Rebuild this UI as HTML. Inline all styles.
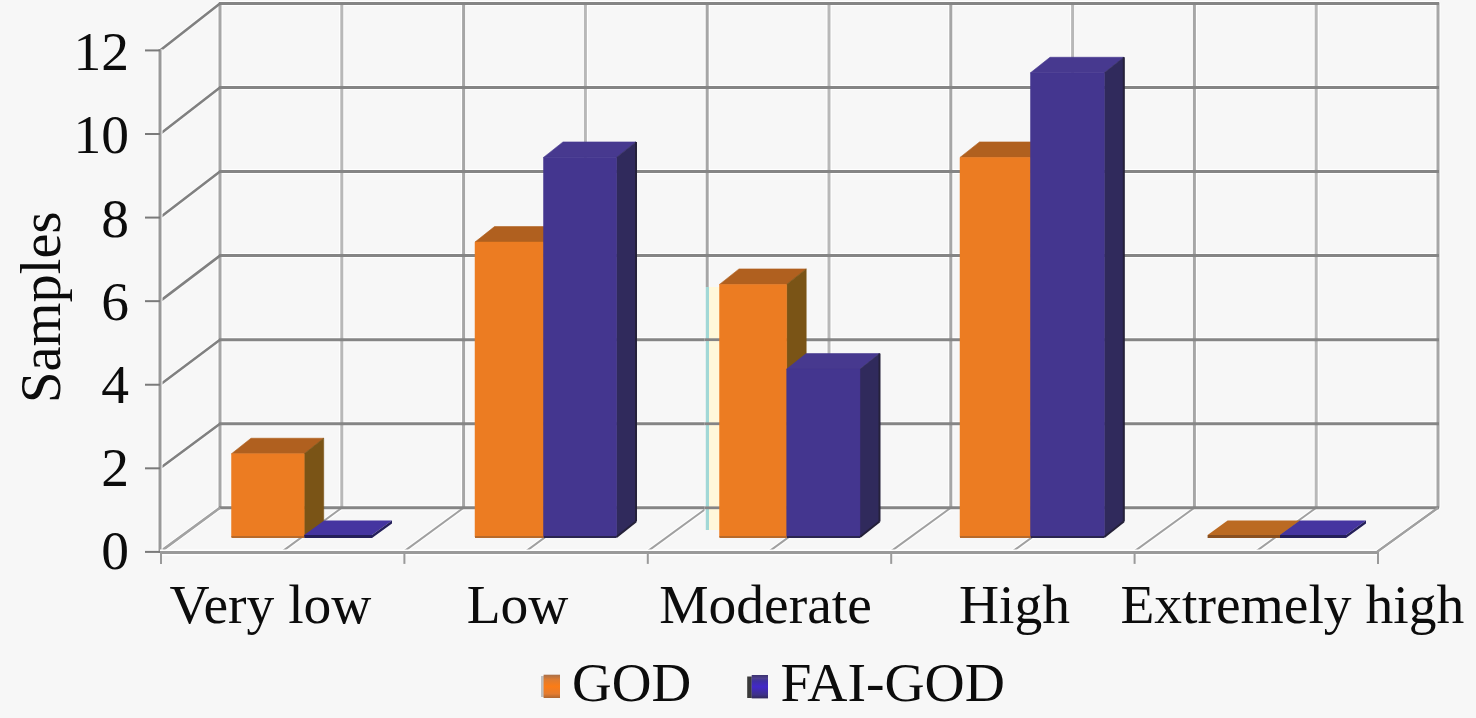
<!DOCTYPE html>
<html><head><meta charset="utf-8"><style>
html,body{margin:0;padding:0;background:#f7f7f7;overflow:hidden;}
svg{display:block;}
</style></head><body><svg width="1476" height="718" viewBox="0 0 1476 718"><rect x="0" y="0" width="1476" height="718" fill="#f7f7f7"/><line x1="219.00" y1="507.80" x2="1439.00" y2="507.80" stroke="#ffffff" stroke-width="5"/><line x1="160.00" y1="551.90" x2="220.00" y2="507.80" stroke="#ffffff" stroke-width="4"/><line x1="219.00" y1="423.74" x2="1439.00" y2="423.74" stroke="#ffffff" stroke-width="5"/><line x1="160.00" y1="468.32" x2="220.00" y2="423.74" stroke="#ffffff" stroke-width="4"/><line x1="219.00" y1="339.68" x2="1439.00" y2="339.68" stroke="#ffffff" stroke-width="5"/><line x1="160.00" y1="384.74" x2="220.00" y2="339.68" stroke="#ffffff" stroke-width="4"/><line x1="219.00" y1="255.62" x2="1439.00" y2="255.62" stroke="#ffffff" stroke-width="5"/><line x1="160.00" y1="301.16" x2="220.00" y2="255.62" stroke="#ffffff" stroke-width="4"/><line x1="219.00" y1="171.56" x2="1439.00" y2="171.56" stroke="#ffffff" stroke-width="5"/><line x1="160.00" y1="217.58" x2="220.00" y2="171.56" stroke="#ffffff" stroke-width="4"/><line x1="219.00" y1="87.50" x2="1439.00" y2="87.50" stroke="#ffffff" stroke-width="5"/><line x1="160.00" y1="134.00" x2="220.00" y2="87.50" stroke="#ffffff" stroke-width="4"/><line x1="219.00" y1="3.44" x2="1439.00" y2="3.44" stroke="#ffffff" stroke-width="5"/><line x1="160.00" y1="50.42" x2="220.00" y2="3.44" stroke="#ffffff" stroke-width="4"/><line x1="220.00" y1="507.80" x2="220.00" y2="3.44" stroke="#ffffff" stroke-width="5"/><line x1="160.00" y1="551.90" x2="220.00" y2="507.80" stroke="#ffffff" stroke-width="4"/><line x1="341.80" y1="507.80" x2="341.80" y2="3.44" stroke="#ffffff" stroke-width="5"/><line x1="281.70" y1="551.90" x2="341.80" y2="507.80" stroke="#ffffff" stroke-width="4"/><line x1="463.60" y1="507.80" x2="463.60" y2="3.44" stroke="#ffffff" stroke-width="5"/><line x1="403.40" y1="551.90" x2="463.60" y2="507.80" stroke="#ffffff" stroke-width="4"/><line x1="585.40" y1="507.80" x2="585.40" y2="3.44" stroke="#ffffff" stroke-width="5"/><line x1="525.10" y1="551.90" x2="585.40" y2="507.80" stroke="#ffffff" stroke-width="4"/><line x1="707.20" y1="507.80" x2="707.20" y2="3.44" stroke="#ffffff" stroke-width="5"/><line x1="646.80" y1="551.90" x2="707.20" y2="507.80" stroke="#ffffff" stroke-width="4"/><line x1="829.00" y1="507.80" x2="829.00" y2="3.44" stroke="#ffffff" stroke-width="5"/><line x1="768.50" y1="551.90" x2="829.00" y2="507.80" stroke="#ffffff" stroke-width="4"/><line x1="950.80" y1="507.80" x2="950.80" y2="3.44" stroke="#ffffff" stroke-width="5"/><line x1="890.20" y1="551.90" x2="950.80" y2="507.80" stroke="#ffffff" stroke-width="4"/><line x1="1072.60" y1="507.80" x2="1072.60" y2="3.44" stroke="#ffffff" stroke-width="5"/><line x1="1011.90" y1="551.90" x2="1072.60" y2="507.80" stroke="#ffffff" stroke-width="4"/><line x1="1194.40" y1="507.80" x2="1194.40" y2="3.44" stroke="#ffffff" stroke-width="5"/><line x1="1133.60" y1="551.90" x2="1194.40" y2="507.80" stroke="#ffffff" stroke-width="4"/><line x1="1316.20" y1="507.80" x2="1316.20" y2="3.44" stroke="#ffffff" stroke-width="5"/><line x1="1255.30" y1="551.90" x2="1316.20" y2="507.80" stroke="#ffffff" stroke-width="4"/><line x1="1438.00" y1="507.80" x2="1438.00" y2="3.44" stroke="#ffffff" stroke-width="5"/><line x1="1377.00" y1="551.90" x2="1438.00" y2="507.80" stroke="#ffffff" stroke-width="4"/><line x1="220.00" y1="507.80" x2="220.00" y2="2.44" stroke="#a6a6a6" stroke-width="3"/><line x1="160.00" y1="551.90" x2="220.00" y2="507.80" stroke="#a0a0a0" stroke-width="2"/><line x1="341.80" y1="507.80" x2="341.80" y2="2.44" stroke="#b8b8b8" stroke-width="3"/><line x1="281.70" y1="551.90" x2="341.80" y2="507.80" stroke="#a0a0a0" stroke-width="2"/><line x1="463.60" y1="507.80" x2="463.60" y2="2.44" stroke="#a6a6a6" stroke-width="3"/><line x1="403.40" y1="551.90" x2="463.60" y2="507.80" stroke="#a0a0a0" stroke-width="2"/><line x1="585.40" y1="507.80" x2="585.40" y2="2.44" stroke="#b8b8b8" stroke-width="3"/><line x1="525.10" y1="551.90" x2="585.40" y2="507.80" stroke="#a0a0a0" stroke-width="2"/><line x1="707.20" y1="507.80" x2="707.20" y2="2.44" stroke="#a6a6a6" stroke-width="3"/><line x1="646.80" y1="551.90" x2="707.20" y2="507.80" stroke="#a0a0a0" stroke-width="2"/><line x1="829.00" y1="507.80" x2="829.00" y2="2.44" stroke="#b8b8b8" stroke-width="3"/><line x1="768.50" y1="551.90" x2="829.00" y2="507.80" stroke="#a0a0a0" stroke-width="2"/><line x1="950.80" y1="507.80" x2="950.80" y2="2.44" stroke="#a6a6a6" stroke-width="3"/><line x1="890.20" y1="551.90" x2="950.80" y2="507.80" stroke="#a0a0a0" stroke-width="2"/><line x1="1072.60" y1="507.80" x2="1072.60" y2="2.44" stroke="#b8b8b8" stroke-width="3"/><line x1="1011.90" y1="551.90" x2="1072.60" y2="507.80" stroke="#a0a0a0" stroke-width="2"/><line x1="1194.40" y1="507.80" x2="1194.40" y2="2.44" stroke="#a6a6a6" stroke-width="3"/><line x1="1133.60" y1="551.90" x2="1194.40" y2="507.80" stroke="#a0a0a0" stroke-width="2"/><line x1="1316.20" y1="507.80" x2="1316.20" y2="2.44" stroke="#b8b8b8" stroke-width="3"/><line x1="1255.30" y1="551.90" x2="1316.20" y2="507.80" stroke="#a0a0a0" stroke-width="2"/><line x1="1438.00" y1="507.80" x2="1438.00" y2="2.44" stroke="#a6a6a6" stroke-width="3"/><line x1="1377.00" y1="551.90" x2="1438.00" y2="507.80" stroke="#a0a0a0" stroke-width="2"/><line x1="219.00" y1="507.80" x2="1439.00" y2="507.80" stroke="#858585" stroke-width="3"/><line x1="160.00" y1="551.90" x2="220.00" y2="507.80" stroke="#a2a2a2" stroke-width="2.6"/><line x1="219.00" y1="423.74" x2="1439.00" y2="423.74" stroke="#858585" stroke-width="3"/><line x1="160.00" y1="468.32" x2="220.00" y2="423.74" stroke="#808080" stroke-width="2.6"/><line x1="219.00" y1="339.68" x2="1439.00" y2="339.68" stroke="#858585" stroke-width="3"/><line x1="160.00" y1="384.74" x2="220.00" y2="339.68" stroke="#808080" stroke-width="2.6"/><line x1="219.00" y1="255.62" x2="1439.00" y2="255.62" stroke="#858585" stroke-width="3"/><line x1="160.00" y1="301.16" x2="220.00" y2="255.62" stroke="#808080" stroke-width="2.6"/><line x1="219.00" y1="171.56" x2="1439.00" y2="171.56" stroke="#858585" stroke-width="3"/><line x1="160.00" y1="217.58" x2="220.00" y2="171.56" stroke="#808080" stroke-width="2.6"/><line x1="219.00" y1="87.50" x2="1439.00" y2="87.50" stroke="#858585" stroke-width="3"/><line x1="160.00" y1="134.00" x2="220.00" y2="87.50" stroke="#808080" stroke-width="2.6"/><line x1="219.00" y1="3.44" x2="1439.00" y2="3.44" stroke="#858585" stroke-width="3"/><line x1="160.00" y1="50.42" x2="220.00" y2="3.44" stroke="#808080" stroke-width="2.6"/><line x1="160.00" y1="552.90" x2="160.00" y2="48.92" stroke="#ffffff" stroke-width="5"/><line x1="160.00" y1="552.90" x2="160.00" y2="48.92" stroke="#999999" stroke-width="3"/><line x1="160.00" y1="552.60" x2="1377.00" y2="552.60" stroke="#ffffff" stroke-width="6"/><line x1="160.00" y1="552.60" x2="1377.00" y2="552.60" stroke="#9a9a9a" stroke-width="3"/><line x1="1377.00" y1="551.90" x2="1438.00" y2="507.80" stroke="#a0a0a0" stroke-width="2.2"/><line x1="145.00" y1="551.90" x2="160.00" y2="551.90" stroke="#7a7a7a" stroke-width="2"/><line x1="145.00" y1="468.32" x2="160.00" y2="468.32" stroke="#7a7a7a" stroke-width="2"/><line x1="145.00" y1="384.74" x2="160.00" y2="384.74" stroke="#7a7a7a" stroke-width="2"/><line x1="145.00" y1="301.16" x2="160.00" y2="301.16" stroke="#7a7a7a" stroke-width="2"/><line x1="145.00" y1="217.58" x2="160.00" y2="217.58" stroke="#7a7a7a" stroke-width="2"/><line x1="145.00" y1="134.00" x2="160.00" y2="134.00" stroke="#7a7a7a" stroke-width="2"/><line x1="145.00" y1="50.42" x2="160.00" y2="50.42" stroke="#7a7a7a" stroke-width="2"/><line x1="161.00" y1="551.90" x2="161.00" y2="563.90" stroke="#9a9a9a" stroke-width="2"/><line x1="404.40" y1="551.90" x2="404.40" y2="563.90" stroke="#9a9a9a" stroke-width="2"/><line x1="647.80" y1="551.90" x2="647.80" y2="563.90" stroke="#9a9a9a" stroke-width="2"/><line x1="891.20" y1="551.90" x2="891.20" y2="563.90" stroke="#9a9a9a" stroke-width="2"/><line x1="1134.60" y1="551.90" x2="1134.60" y2="563.90" stroke="#9a9a9a" stroke-width="2"/><line x1="1378.00" y1="551.90" x2="1378.00" y2="563.90" stroke="#9a9a9a" stroke-width="2"/><rect x="704.5" y="287" width="15" height="243" fill="#f7f7f7"/><rect x="709" y="287" width="10.5" height="243" fill="#fff8da"/><rect x="705.8" y="287" width="3.2" height="243" fill="#a2d8d6"/><line x1="704.5" y1="507.80" x2="720" y2="507.80" stroke="#858585" stroke-width="2.8"/><line x1="704.5" y1="423.74" x2="720" y2="423.74" stroke="#858585" stroke-width="2.8"/><line x1="704.5" y1="339.68" x2="720" y2="339.68" stroke="#858585" stroke-width="2.8"/><line x1="704.5" y1="255.62" x2="720" y2="255.62" stroke="#858585" stroke-width="2.8"/><polygon points="231.50,453.74 304.20,453.74 323.70,438.24 251.00,438.24" fill="#b0601f" stroke="#b0601f" stroke-width="0.6"/><polygon points="304.20,537.00 323.70,521.50 323.70,438.24 304.20,453.74" fill="#7a5416" stroke="#7a5416" stroke-width="0.6"/><polygon points="231.50,537.00 304.20,537.00 304.20,453.74 231.50,453.74" fill="#ec7c22" stroke="#ec7c22" stroke-width="0.5"/><polygon points="304.20,535.00 372.00,535.00 392.00,520.50 324.20,520.50" fill="#4535a0"/><polygon points="304.20,538.00 372.00,538.00 392.00,523.50 392.00,520.50 372.00,535.00 304.20,535.00" fill="#241f5a"/><polygon points="475.00,242.09 543.50,242.09 563.00,226.59 494.50,226.59" fill="#b0601f" stroke="#b0601f" stroke-width="0.6"/><polygon points="543.50,537.00 563.00,521.50 563.00,226.59 543.50,242.09" fill="#7a5416" stroke="#7a5416" stroke-width="0.6"/><polygon points="475.00,537.00 543.50,537.00 543.50,242.09 475.00,242.09" fill="#ec7c22" stroke="#ec7c22" stroke-width="0.5"/><polygon points="543.50,157.43 616.50,157.43 636.00,141.93 563.00,141.93" fill="#47398f" stroke="#47398f" stroke-width="0.6"/><polygon points="616.50,537.00 636.00,521.50 636.00,141.93 616.50,157.43" fill="#302a5c" stroke="#302a5c" stroke-width="0.6"/><polygon points="543.50,537.00 616.50,537.00 616.50,157.43 543.50,157.43" fill="#44368f" stroke="#44368f" stroke-width="0.5"/><polygon points="719.50,284.42 786.70,284.42 806.20,268.92 739.00,268.92" fill="#b0601f" stroke="#b0601f" stroke-width="0.6"/><polygon points="786.70,537.00 806.20,521.50 806.20,268.92 786.70,284.42" fill="#7a5416" stroke="#7a5416" stroke-width="0.6"/><polygon points="719.50,537.00 786.70,537.00 786.70,284.42 719.50,284.42" fill="#ec7c22" stroke="#ec7c22" stroke-width="0.5"/><polygon points="786.70,369.08 860.00,369.08 879.50,353.58 806.20,353.58" fill="#47398f" stroke="#47398f" stroke-width="0.6"/><polygon points="860.00,537.00 879.50,521.50 879.50,353.58 860.00,369.08" fill="#302a5c" stroke="#302a5c" stroke-width="0.6"/><polygon points="786.70,537.00 860.00,537.00 860.00,369.08 786.70,369.08" fill="#44368f" stroke="#44368f" stroke-width="0.5"/><polygon points="960.00,157.43 1030.50,157.43 1050.00,141.93 979.50,141.93" fill="#b0601f" stroke="#b0601f" stroke-width="0.6"/><polygon points="1030.50,537.00 1050.00,521.50 1050.00,141.93 1030.50,157.43" fill="#7a5416" stroke="#7a5416" stroke-width="0.6"/><polygon points="960.00,537.00 1030.50,537.00 1030.50,157.43 960.00,157.43" fill="#ec7c22" stroke="#ec7c22" stroke-width="0.5"/><polygon points="1030.50,72.77 1104.30,72.77 1123.80,57.27 1050.00,57.27" fill="#47398f" stroke="#47398f" stroke-width="0.6"/><polygon points="1104.30,537.00 1123.80,521.50 1123.80,57.27 1104.30,72.77" fill="#302a5c" stroke="#302a5c" stroke-width="0.6"/><polygon points="1030.50,537.00 1104.30,537.00 1104.30,72.77 1030.50,72.77" fill="#44368f" stroke="#44368f" stroke-width="0.5"/><polygon points="1207.60,535.00 1280.00,535.00 1300.00,520.50 1227.60,520.50" fill="#bb6a22"/><polygon points="1207.60,538.00 1280.00,538.00 1300.00,523.50 1300.00,520.50 1280.00,535.00 1207.60,535.00" fill="#8a5020"/><polygon points="1280.00,535.00 1346.00,535.00 1366.00,520.50 1300.00,520.50" fill="#4535a0"/><polygon points="1280.00,538.00 1346.00,538.00 1366.00,523.50 1366.00,520.50 1346.00,535.00 1280.00,535.00" fill="#241f5a"/><line x1="231.50" y1="537.00" x2="304.20" y2="537.00" stroke="#b86a2a" stroke-width="2"/><line x1="636.00" y1="141.93" x2="636.00" y2="521.50" stroke="#25213a" stroke-width="2"/><line x1="636.00" y1="521.50" x2="616.50" y2="537.00" stroke="#25213a" stroke-width="2"/><line x1="543.50" y1="537.00" x2="616.50" y2="537.00" stroke="#2a2550" stroke-width="2"/><line x1="475.00" y1="537.00" x2="543.50" y2="537.00" stroke="#b86a2a" stroke-width="2"/><line x1="879.50" y1="353.58" x2="879.50" y2="521.50" stroke="#25213a" stroke-width="2"/><line x1="879.50" y1="521.50" x2="860.00" y2="537.00" stroke="#25213a" stroke-width="2"/><line x1="786.70" y1="537.00" x2="860.00" y2="537.00" stroke="#2a2550" stroke-width="2"/><line x1="719.50" y1="537.00" x2="786.70" y2="537.00" stroke="#b86a2a" stroke-width="2"/><line x1="1123.80" y1="57.27" x2="1123.80" y2="521.50" stroke="#25213a" stroke-width="2"/><line x1="1123.80" y1="521.50" x2="1104.30" y2="537.00" stroke="#25213a" stroke-width="2"/><line x1="1030.50" y1="537.00" x2="1104.30" y2="537.00" stroke="#2a2550" stroke-width="2"/><line x1="960.00" y1="537.00" x2="1030.50" y2="537.00" stroke="#b86a2a" stroke-width="2"/><text x="129" y="569.00" text-anchor="end" font-family="Liberation Serif, serif" font-size="55.5" fill="#0c0c0c">0</text><text x="129" y="485.90" text-anchor="end" font-family="Liberation Serif, serif" font-size="55.5" fill="#0c0c0c">2</text><text x="129" y="403.10" text-anchor="end" font-family="Liberation Serif, serif" font-size="55.5" fill="#0c0c0c">4</text><text x="129" y="319.50" text-anchor="end" font-family="Liberation Serif, serif" font-size="55.5" fill="#0c0c0c">6</text><text x="129" y="237.00" text-anchor="end" font-family="Liberation Serif, serif" font-size="55.5" fill="#0c0c0c">8</text><text x="129" y="152.50" text-anchor="end" font-family="Liberation Serif, serif" font-size="55.5" fill="#0c0c0c">10</text><text x="129" y="69.85" text-anchor="end" font-family="Liberation Serif, serif" font-size="55.5" fill="#0c0c0c">12</text><text x="270.5" y="623.0" text-anchor="middle" font-family="Liberation Serif, serif" font-size="55.5" fill="#0c0c0c">Very low</text><text x="517.6" y="623.0" text-anchor="middle" font-family="Liberation Serif, serif" font-size="55.5" fill="#0c0c0c">Low</text><text x="765.6" y="623.0" text-anchor="middle" font-family="Liberation Serif, serif" font-size="55.5" fill="#0c0c0c">Moderate</text><text x="1014.5" y="623.0" text-anchor="middle" font-family="Liberation Serif, serif" font-size="55.5" fill="#0c0c0c">High</text><text x="1292.3" y="623.0" text-anchor="middle" font-family="Liberation Serif, serif" font-size="55.5" fill="#0c0c0c">Extremely high</text><text transform="translate(59.5,307.2) rotate(-90)" text-anchor="middle" font-family="Liberation Serif, serif" font-size="56.5" fill="#0c0c0c">Samples</text><defs><linearGradient id="go" x1="0" y1="0" x2="0" y2="1"><stop offset="0" stop-color="#a8704a"/><stop offset="0.2" stop-color="#dc7c32"/><stop offset="0.5" stop-color="#fb7c16"/><stop offset="0.82" stop-color="#e47c30"/><stop offset="1" stop-color="#ae6630"/></linearGradient><linearGradient id="gp" x1="0" y1="0" x2="0" y2="1"><stop offset="0" stop-color="#3c3270"/><stop offset="0.15" stop-color="#4e4090"/><stop offset="0.25" stop-color="#3e30a0"/><stop offset="0.5" stop-color="#4228c8"/><stop offset="0.85" stop-color="#3e3288"/><stop offset="1" stop-color="#30285a"/></linearGradient></defs><rect x="541" y="676" width="3" height="21" fill="#9a9a9a" opacity="0.6"/><rect x="543.6" y="674.7" width="16.4" height="23.3" fill="url(#go)"/><text x="572" y="700.5" font-family="Liberation Serif, serif" font-size="55" fill="#0c0c0c">GOD</text><rect x="747.2" y="676.5" width="4.6" height="21.5" fill="#3a3a3a"/><rect x="751.7" y="675" width="16.3" height="23.4" fill="url(#gp)"/><text x="780.5" y="700.5" font-family="Liberation Serif, serif" font-size="55.6" fill="#0c0c0c">FAI-GOD</text></svg></body></html>
